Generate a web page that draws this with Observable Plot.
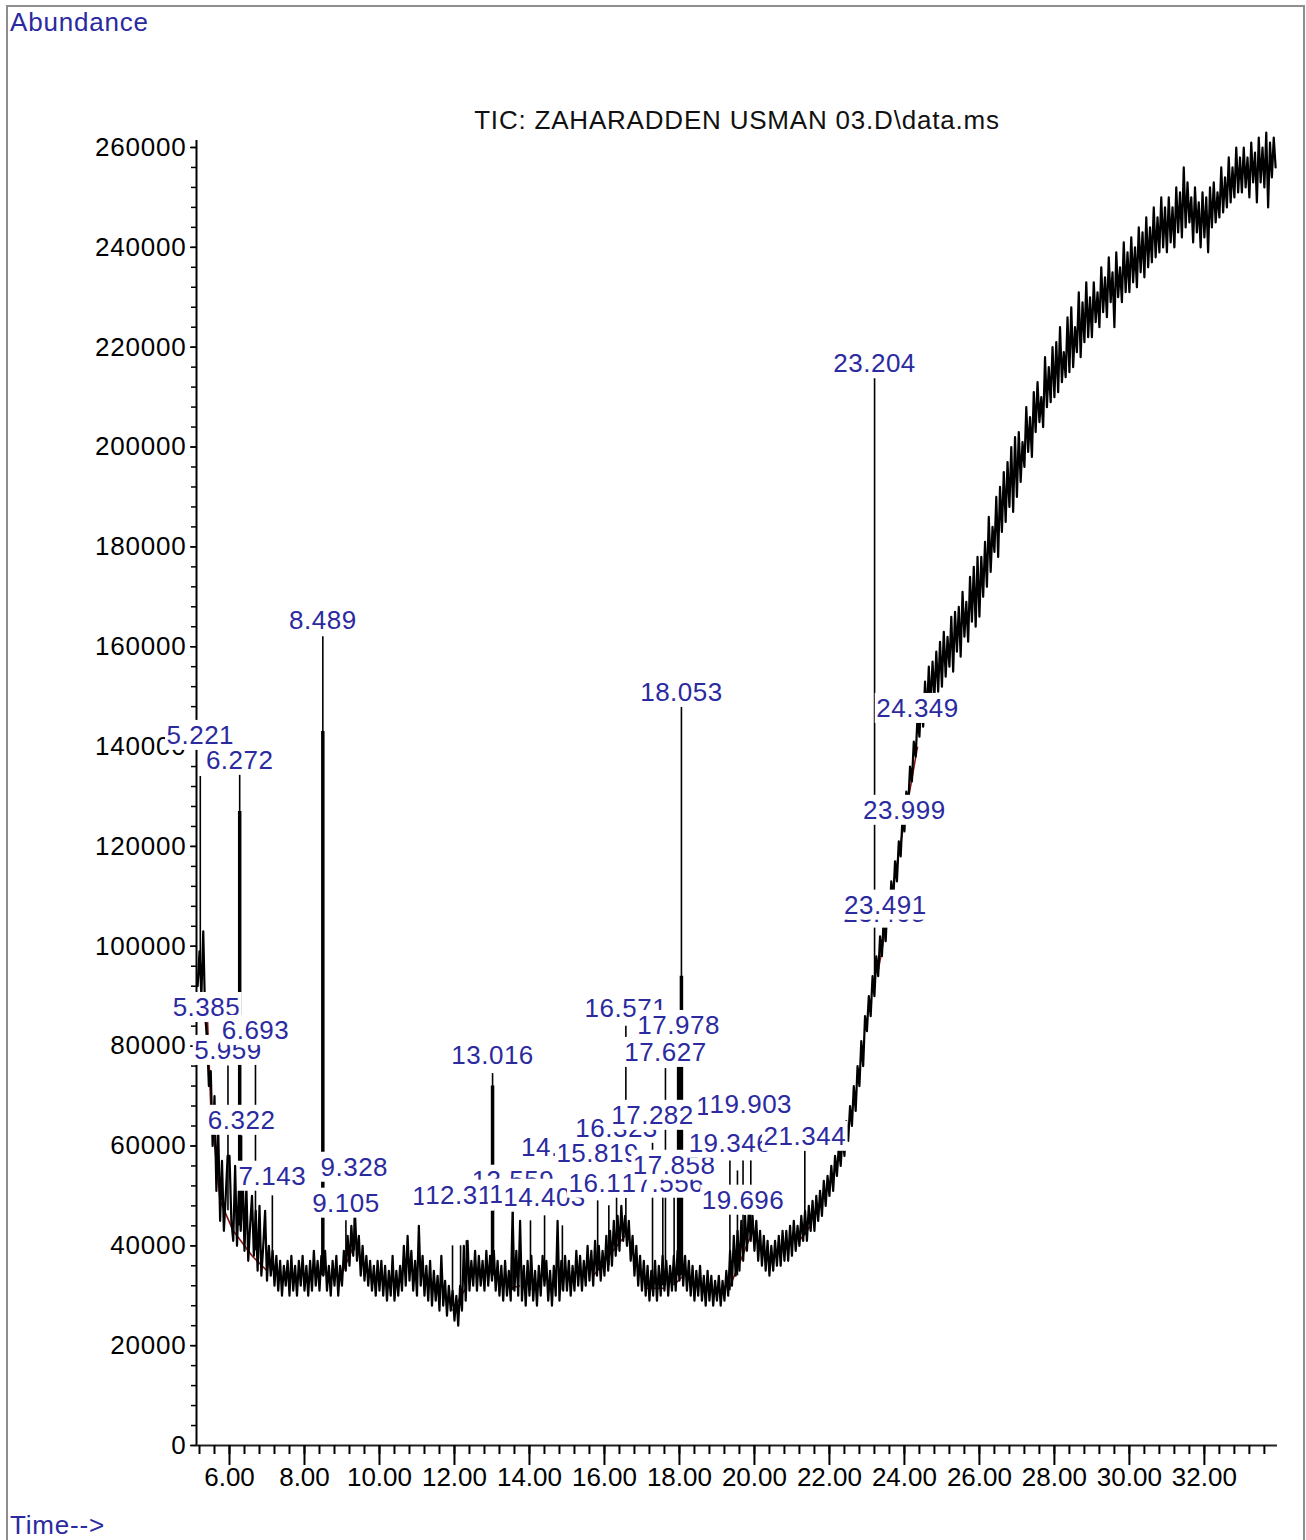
<!DOCTYPE html>
<html>
<head>
<meta charset="utf-8">
<script src="https://cdn.jsdelivr.net/npm/d3@7"></script>
<script src="https://cdn.jsdelivr.net/npm/@observablehq/plot@0.6"></script>
<style>
  html, body { margin: 0; padding: 0; background: #fff; }
  body { width: 1306px; height: 1540px; position: relative; overflow: hidden;
         font-family: "Liberation Sans", Arial, sans-serif; }
  #chart { position: absolute; left: 0; top: 0; }
  .frame { position: absolute; left: 6px; top: 5px; width: 1299px; height: 1600px;
           box-sizing: border-box; border: 2px solid #8e8e8e; pointer-events: none; }
  .txt { position: absolute; font-size: 26px; line-height: 26px; letter-spacing: 0.8px;
         white-space: nowrap; }
  .blue { color: #2b2a9f; }
  #abundance { left: 10px; top: 9px; }
  #title { left: 437px; width: 600px; top: 107px; text-align: center; color: #111; }
  #timeLabel { left: 10px; top: 1512px; }
  #chart g[aria-label="y-axis tick label"] text { letter-spacing: 0.8px; }
  #chart .peak-labels text { letter-spacing: 0.5px; }
</style>
</head>
<body>
<div id="chart"></div>
<div class="frame"></div>
<div class="txt blue" id="abundance">Abundance</div>
<div class="txt" id="title">TIC: ZAHARADDEN USMAN 03.D\data.ms</div>
<div class="txt blue" id="timeLabel">Time--&gt;</div>
<script>
// Total ion current, one value every SCAN minutes, abundance in thousands.
const SCAN = 0.05;

// 5.15 – 9.95 min
const ticA = [
  92, 99, 90, 103, 86, 82, 72, 75, 60, 70, 51, 63, 45, 57, 43, 50, 58,
  58, 45, 41, 56, 40, 51, 43, 55, 39, 52, 37, 44, 50, 38, 47, 35, 48, 34, 40, 47,
  33, 40, 34, 39, 32, 38, 31, 37, 30, 36, 32, 37, 30, 38, 31, 36, 30, 37, 32, 38,
  31, 36, 30, 37, 31, 39, 32, 37, 31, 38, 34, 39, 31, 36, 30, 37, 32, 38, 30, 36,
  32, 39, 35, 42, 36, 44, 38, 46, 37, 42, 34, 40, 33, 38, 32, 37, 31, 36, 30, 37
];
// 10.00 – 14.95 min
const ticB = [
  31, 37, 30, 36, 29, 35, 30, 38, 29, 35, 30, 36, 31, 40, 32, 42, 33, 39, 31, 37,
  30, 44, 32, 38, 30, 36, 29, 37, 28, 35, 29, 34, 27, 38, 28, 33, 26, 32, 27, 31,
  25, 30, 24, 32, 27, 40, 29, 41, 31, 37, 32, 39, 31, 38, 32, 37, 31, 39, 32, 38,
  33, 39, 31, 37, 30, 36, 29, 37, 30, 35, 29, 47, 31, 39, 30, 45, 29, 36, 28, 37,
  30, 38, 29, 35, 28, 36, 30, 38, 32, 37, 29, 35, 28, 36, 30, 45, 29, 37, 31, 38
];
// 15.00 – 19.95 min
const ticC = [
  31, 37, 30, 36, 31, 39, 32, 38, 31, 37, 32, 40, 33, 39, 32, 41, 34, 40, 33, 39,
  34, 42, 35, 43, 36, 45, 38, 46, 39, 48, 41, 46, 40, 45, 37, 42, 34, 40, 32, 38,
  31, 37, 30, 36, 29, 35, 30, 37, 29, 36, 30, 38, 31, 37, 30, 36, 31, 38, 31, 39,
  33, 41, 32, 38, 31, 37, 30, 36, 29, 35, 30, 36, 29, 34, 28, 35, 29, 34, 28, 33,
  29, 34, 28, 33, 29, 35, 30, 39, 32, 42, 34, 43, 35, 45, 37, 46, 39, 47, 41, 46
];
// 20.00 – 24.95 min
const ticD = [
  39, 45, 37, 43, 36, 42, 35, 41, 34, 40, 35, 41, 36, 42, 36, 43, 37, 43, 37, 44,
  38, 45, 39, 44, 40, 46, 41, 47, 41, 48, 43, 49, 43, 50, 45, 51, 46, 53, 48, 54,
  50, 56, 51, 58, 54, 60, 56, 62, 58, 65, 61, 68, 64, 72, 67, 76, 72, 81, 76, 86,
  83, 90, 86, 94, 90, 98, 94, 102, 98, 106, 101, 109, 105, 113, 109, 117, 113, 121, 118, 126,
  123, 131, 128, 136, 133, 141, 138, 146, 142, 150, 144, 153, 146, 156, 148, 157, 150, 159, 151, 161
];
// 25.00 – 29.95 min
const ticE = [
  152, 163, 154, 162, 156, 166, 155, 167, 159, 168, 158, 171, 162, 169, 161, 174, 165, 176, 164, 178,
  166, 178, 170, 181, 172, 186, 175, 184, 179, 190, 178, 192, 183, 195, 185, 197, 188, 200, 187, 202,
  190, 203, 193, 201, 196, 208, 199, 206, 198, 211, 203, 213, 205, 210, 204, 218, 208, 216, 209, 220,
  210, 221, 211, 224, 213, 219, 214, 226, 215, 228, 216, 224, 219, 231, 218, 229, 221, 233, 222, 230,
  222, 233, 225, 231, 224, 236, 227, 234, 226, 238, 229, 235, 224, 239, 230, 236, 229, 241, 231, 239
];
// 30.00 – 33.90 min
const ticF = [
  231, 242, 233, 240, 232, 244, 235, 243, 234, 246, 236, 244, 237, 248, 238, 246, 239, 250, 240, 248,
  239, 250, 241, 248, 240, 252, 243, 251, 242, 256, 244, 253, 245, 250, 241, 252, 243, 249, 240, 251,
  242, 250, 239, 252, 244, 253, 245, 251, 246, 256, 247, 254, 248, 258, 249, 256, 250, 260, 251, 258,
  251, 260, 252, 258, 250, 261, 253, 259, 249, 262, 253, 260, 252, 263, 248, 261, 254, 262, 256
];
const traceSegments = [[5.15, ticA], [10, ticB], [15, ticC], [20, ticD], [25, ticE], [30, ticF]];

// Single-scan spikes: retention time, apex and foot (thousands)
const spikeTimes = [5.221, 5.385, 5.959, 6.272, 6.322, 6.693, 7.143, 8.489, 9.105, 9.328,
  11.948, 12.163, 12.318, 13.016, 13.559, 14.027, 14.403, 14.878, 15.819, 16.117, 16.323,
  16.571, 17.282, 17.556, 17.627, 17.858, 17.978, 18.053, 19.346, 19.547, 19.696, 19.903,
  21.344, 23.204];
const spikeApex = [134, 84, 76, 134.5, 62, 79, 50, 162, 45, 46,
  40, 40, 41, 74.5, 48, 45, 46, 44, 49, 48, 52,
  84, 61, 58, 75.5, 56, 76, 148, 57, 55, 57, 57,
  59, 213.7];
const spikeFoot = [95, 80, 47, 44, 45, 39, 35, 34, 36, 39,
  29, 28, 31, 34, 31, 31, 33, 31, 35, 36, 39,
  42, 31, 32, 32, 32, 34, 34, 31, 34, 38, 42,
  42, 92];

// Broad upper parts of the strongest peaks
const coreTimes = [6.272, 8.489, 13.016, 17.978, 18.053];
const coreTop = [127, 143, 72, 76, 94];
const coreFoot = [44, 34, 34, 34, 34];

// Integration baselines: [t1, abundance1, t2, abundance2] (thousands)
const integrationBaselines = [
  [5.40, 88, 5.50, 68], [5.50, 68, 5.75, 49], [5.75, 49, 6.10, 43], [6.10, 43, 6.60, 38],
  [6.60, 38, 7.00, 35], [9.00, 34.5, 9.40, 41.5], [11.95, 27, 12.30, 31.5], [13.50, 31.5, 13.75, 32],
  [15.70, 34, 16.55, 42], [17.10, 31.5, 17.60, 31.5], [17.90, 32.5, 18.10, 34], [19.30, 31, 19.90, 42],
  [21.20, 41, 21.50, 44], [23.30, 95, 24.35, 140]
];

// Peak labels in drawing order, with the abundance (thousands) their text is centred on
const labelText = ["5.221", "5.385", "5.959", "6.272", "6.322", "6.693", "7.143", "8.489",
  "9.105", "9.328", "11.948", "13.559", "12.318", "13.016", "14.027", "14.878", "14.403",
  "15.819", "16.117", "16.323", "16.571", "17.282", "17.556", "17.627", "17.858", "17.978",
  "18.053", "19.547", "19.346", "19.903", "19.696", "21.344", "23.204", "23.468", "23.491",
  "23.999", "24.349"];
const labelLevel = [142.2, 87.7, 79.1, 137.2, 65.1, 83.1, 53.9, 165.3,
  48.5, 55.7, 49.9, 53.1, 50.1, 78.1, 50.3, 59.7, 49.7,
  58.5, 52.5, 63.5, 87.5, 66.1, 52.5, 78.7, 56.1, 84.1,
  150.8, 67.9, 60.5, 68.3, 49.1, 61.9, 216.7, 106.6, 108.2,
  127.2, 147.6];

// Axis ticks
const xMajor = [6, 8, 10, 12, 14, 16, 18, 20, 22, 24, 26, 28, 30, 32];
const yMajor = [0, 20000, 40000, 60000, 80000, 100000, 120000, 140000, 160000, 180000,
  200000, 220000, 240000, 260000];
const xMinor = d3.range(5.2, 33.8, 0.4);
const yMinor = d3.range(0, 260001, 4000);

const T0 = 5.12, T1 = 33.95, YTOP = 261400;
const BLUE = "#2b2a9f";

const trace = traceSegments.flatMap(([t0, ks]) =>
  ks.map((k, i) => ({time: t0 + i * SCAN, abundance: k * 1000})));
const spikes = spikeTimes.map((t, i) => ({time: t, apex: spikeApex[i] * 1000, foot: spikeFoot[i] * 1000}));
const cores = coreTimes.map((t, i) => ({time: t, top: coreTop[i] * 1000, foot: coreFoot[i] * 1000}));
const baselines = integrationBaselines.map(([t1, a1, t2, a2]) => ({t1, a1: a1 * 1000, t2, a2: a2 * 1000}));
const labels = labelText.map((s, i) => ({time: +s, level: labelLevel[i] * 1000, text: s}));

const chart = Plot.plot({
  width: 1306,
  height: 1540,
  marginLeft: 196,
  marginRight: 29,
  marginTop: 140,
  marginBottom: 95,
  x: {domain: [T0, T1]},
  y: {domain: [0, YTOP]},
  style: {
    fontFamily: "'Liberation Sans', Arial, sans-serif",
    fontSize: "26px",
    background: "transparent",
    color: "#000",
    overflow: "visible"
  },
  marks: [
    Plot.link(baselines, {x1: "t1", y1: "a1", x2: "t2", y2: "a2", stroke: "#8c1414", strokeWidth: 1.6}),
    Plot.lineY(trace, {x: "time", y: "abundance", stroke: "#000", strokeWidth: 2.2}),
    Plot.ruleX(cores, {x: "time", y1: "foot", y2: "top", stroke: "#000", strokeWidth: 3.5}),
    Plot.ruleX(spikes, {x: "time", y1: "foot", y2: "apex", stroke: "#000", strokeWidth: 1.6}),
    Plot.ruleX([T0], {stroke: "#000", strokeWidth: 2}),
    Plot.ruleY([0], {stroke: "#222", strokeWidth: 2}),
    Plot.axisY({ticks: yMinor, tickSize: 5, tickFormat: () => "", label: null, strokeWidth: 1.5}),
    Plot.axisY({ticks: yMajor, tickSize: 6, tickPadding: 4, tickFormat: d => String(d), label: null, strokeWidth: 1.5}),
    Plot.axisX({ticks: xMinor, tickSize: 9, tickFormat: () => "", label: null, strokeWidth: 2}),
    Plot.axisX({ticks: xMajor, tickSize: 20, tickPadding: 2, tickFormat: d => d.toFixed(2), label: null, strokeWidth: 2}),
    Plot.text(labels, {x: "time", y: "level", text: "text", fill: BLUE, fontSize: 26,
      textAnchor: "middle", lineAnchor: "middle", className: "peak-labels"})
  ]
});

document.getElementById("chart").append(chart);

// Peak labels sit on opaque white boxes, so later labels hide earlier ones and the trace.
const svgNS = "http://www.w3.org/2000/svg";
let labelGroup = chart.querySelector("g.peak-labels");
if (!labelGroup) {
  const groups = chart.querySelectorAll('g[aria-label="text"]');
  labelGroup = groups[groups.length - 1];
}
if (labelGroup) {
  labelGroup.classList.add("peak-labels");
  for (const t of Array.from(labelGroup.querySelectorAll("text"))) {
    const b = t.getBBox();
    const r = document.createElementNS(svgNS, "rect");
    r.setAttribute("x", b.x - 1.5);
    r.setAttribute("y", b.y);
    r.setAttribute("width", b.width + 3);
    r.setAttribute("height", b.height);
    r.setAttribute("fill", "#fff");
    r.setAttribute("stroke", "none");
    const tr = t.getAttribute("transform");
    if (tr) r.setAttribute("transform", tr);
    labelGroup.insertBefore(r, t);
  }
}
</script>
</body>
</html>
